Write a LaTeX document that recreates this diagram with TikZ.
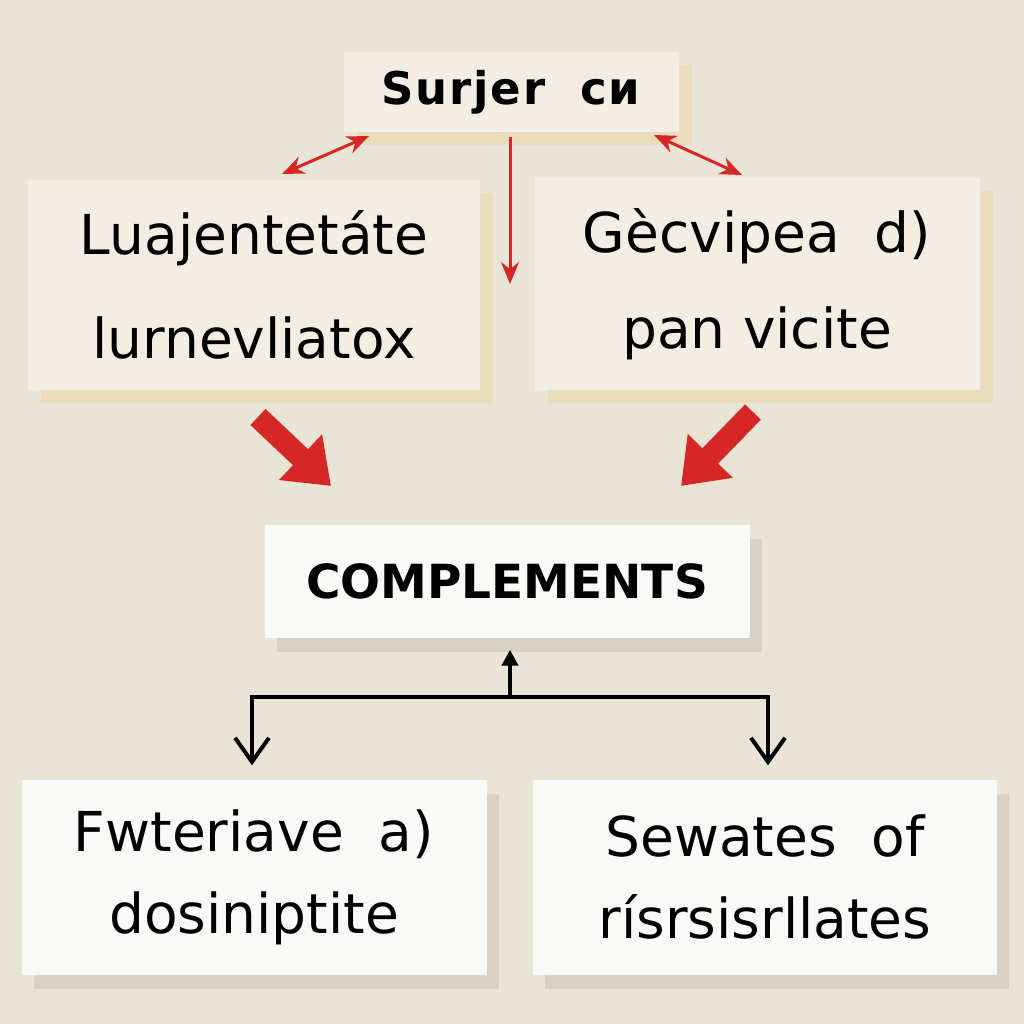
\documentclass[tikz,border=0pt]{standalone}
\usepackage{fontspec}
\setmainfont{DejaVu Sans}
\usetikzlibrary{arrows.meta,shadows}
\definecolor{bg}{RGB}{232,229,215}
\definecolor{cream}{RGB}{242,238,227}
\definecolor{tan}{RGB}{236,220,190}
\definecolor{paper}{RGB}{249,249,247}
\definecolor{greysh}{RGB}{214,211,198}
\definecolor{arrred}{RGB}{214,38,38}
\begin{document}
\begin{tikzpicture}[x=1pt,y=-1pt,
  creambox/.style={fill=cream, inner sep=0pt, align=center,
    drop shadow={shadow xshift=13pt, shadow yshift=-13pt, fill=tan, opacity=1}},
  paperbox/.style={fill=paper, inner sep=0pt, align=center,
    drop shadow={shadow xshift=12pt, shadow yshift=-14pt, fill=greysh, opacity=1}},
  thinred/.style={draw=arrred, line width=3pt},
  redtip/.tip={Stealth[length=22pt,width=18pt]},
  fatred/.style={draw=arrred, line width=22pt, -{Triangle[length=42pt,width=60pt]}, fill=arrred},
  blackline/.style={draw=black, line width=4pt}
]
\fill[bg] (0,0) rectangle (1024,1024);
\useasboundingbox (0,0) rectangle (1024,1024);

% boxes
\node[creambox, minimum width=335pt, minimum height=80pt,
  font=\bfseries\fontsize{45}{50}\selectfont\addfontfeatures{LetterSpace=4}] (top) at (511,92) {Surjer\ \ cи};
\node[creambox, minimum width=452pt, minimum height=210pt,
  font=\fontsize{55}{104}\selectfont] (lm) at (254,285) {Luajentetáte\\lurnevliatox};
\node[creambox, minimum width=445pt, minimum height=212pt,
  font=\fontsize{55}{96}\selectfont] (rm) at (757,284) {Gècvipea\ \ d)\\pan vicite};
\node[paperbox, minimum width=485pt, minimum height=113pt,
  font=\bfseries\fontsize{47}{56}\selectfont] (comp) at (507,581) {COMPLEMENTS};
\node[paperbox, minimum width=465pt, minimum height=195pt,
  font=\fontsize{55}{82}\selectfont] (bl) at (254,877) {Fwteriave\ \ a)\\dosiniptite};
\node[paperbox, minimum width=464pt, minimum height=195pt,
  font=\fontsize{55}{82}\selectfont] (br) at (765,877) {Sewates\ \ of\\rísrsisrllates};

% thin red arrows
\coordinate (a1) at (282,174);
\coordinate (a2) at (369,136);
\coordinate (b1) at (654,135);
\coordinate (b2) at (742,175);
\coordinate (c2) at (510,284);
\draw[thinred, redtip-redtip] (a1) -- (a2);
\draw[thinred, redtip-redtip] (b1) -- (b2);
\draw[thinred, -redtip] (top.south -| c2) ++(0,5) -- (c2);

% fat red arrows
\coordinate (f1) at (258,417);
\coordinate (f2) at (331,486);
\coordinate (g1) at (753,412);
\coordinate (g2) at (681,486);
\draw[fatred] (f1) -- (f2);
\draw[fatred] (g1) -- (g2);

% black connectors
\coordinate (j) at (510,697);
\draw[blackline, -{Triangle[length=16pt,width=16pt]}, shorten >=12pt] (j) -- (j |- comp.south);
\draw[blackline, -{Straight Barb[length=24pt,width=34pt,line width=4pt]}, shorten >=14pt]
  (j) -| ([xshift=-2pt]bl.north);
\draw[blackline, -{Straight Barb[length=24pt,width=34pt,line width=4pt]}, shorten >=14pt]
  (j) -| ([xshift=3pt]br.north);
\end{tikzpicture}
\end{document}
